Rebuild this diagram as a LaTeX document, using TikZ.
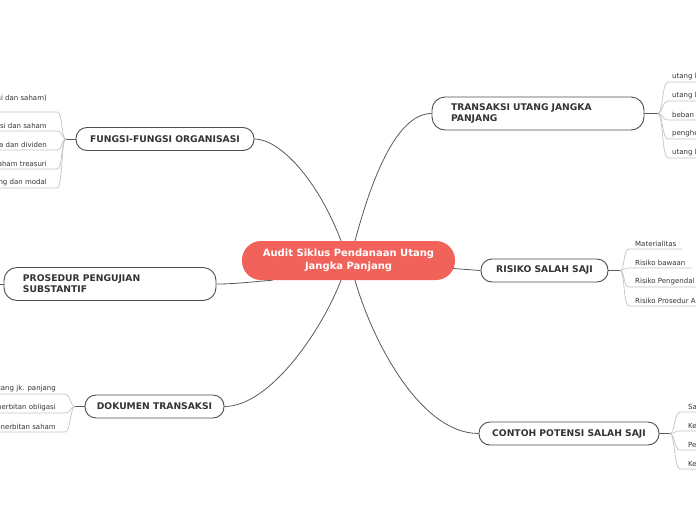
\documentclass[tikz,border=0pt]{standalone}
\usepackage{fontspec}
\setmainfont{DejaVu Sans}
\usepackage{tikz}
\definecolor{rootred}{RGB}{241, 99, 90}
\definecolor{branchgray}{RGB}{77, 77, 77}
\definecolor{linkgray}{RGB}{90, 90, 90}
\definecolor{leafgray}{RGB}{195, 195, 195}
\definecolor{textgray}{RGB}{51, 51, 51}

\begin{document}
\begin{tikzpicture}[
    x=1pt, y=-1pt,
    root/.style={rectangle, rounded corners=19pt, fill=rootred, text=white, minimum width=213pt, minimum height=39pt, align=center, font=\fontsize{10}{12.5}\selectfont\bfseries},
    branch/.style={rectangle, rounded corners=11pt, draw=branchgray, fill=white, line width=0.9pt, minimum height=23pt, text=textgray, font=\fontsize{9.2}{11}\selectfont\bfseries},
    widebranch/.style={branch, rounded corners=13pt, minimum height=33pt, text width=174pt, inner xsep=19pt, align=left},
    leafr/.style={anchor=south west, inner xsep=#1, inner ysep=2pt, text=textgray, font=\fontsize{7}{8}\selectfont},
    leafl/.style={anchor=south east, inner xsep=#1, inner ysep=2pt, text=textgray, font=\fontsize{7}{8}\selectfont},
    link/.style={draw=linkgray, line width=0.8pt},
    leafline/.style={draw=leafgray, line width=0.7pt}
]
\useasboundingbox (0,0) rectangle (696,520);

% Root (centre)
\node[root] (root) at (348.5,260.5) {Audit Siklus Pendanaan Utang\\Jangka Panjang};

% Branches
\node[branch, minimum width=178pt] (fu) at (165,139) {FUNGSI-FUNGSI ORGANISASI};
\node[widebranch] (tr) at (538,113.5) {TRANSAKSI UTANG JANGKA\\PANJANG};
\node[widebranch] (pr) at (110,284) {PROSEDUR PENGUJIAN\\SUBSTANTIF};
\node[branch, minimum width=127pt] (rs) at (544.5,270.5) {RISIKO SALAH SAJI};
\node[branch, minimum width=139pt] (dk) at (154.5,406.5) {DOKUMEN TRANSAKSI};
\node[branch, minimum width=180pt] (ct) at (569,433.5) {CONTOH POTENSI SALAH SAJI};

% Root to branches
\draw[link] ([xshift=-7.5pt]root.north) .. controls (318,180) and (280,139) .. (fu.east);
\draw[link] ([xshift=6.5pt]root.north) .. controls (370,185) and (395,113.5) .. (tr.west);
\draw[link] ([xshift=-76pt]root.south) .. controls (250,282) and (235,284) .. (pr.east);
\draw[link] ([xshift=-2pt, yshift=-8pt]root.east) -- (rs.west);
\draw[link] ([xshift=-7.5pt]root.south) .. controls (322,330) and (270,406.5) .. (dk.west -| dk.east);
\draw[link] ([xshift=6.5pt]root.south) .. controls (372,340) and (420,433.5) .. (ct.west);

% Hubs
\coordinate (fu-h) at (66,139);
\coordinate (tr-h) at (658,113.5);
\coordinate (pr-h) at (-8,284);
\coordinate (rs-h) at (620,270.5);
\coordinate (dk-h) at (75,406.5);
\coordinate (ct-h) at (670,433.5);
\draw[link] (fu.west) -- (fu-h);
\draw[link] (tr.east) -- (tr-h);
\draw[link] (pr.west) -- (pr-h);
\draw[link] (rs.east) -- (rs-h);
\draw[link] (dk.west) -- (dk-h);
\draw[link] (ct.east) -- (ct-h);

% Leaves: fungsi-fungsi organisasi (left)
\node[leafl=10pt, text depth=9pt] (fu1) at (57,112) {si dan saham)};
\node[leafl=10pt] (fu2) at (57,131) {si dan saham};
\node[leafl=10pt] (fu3) at (57,150) {a dan dividen};
\node[leafl=10pt] (fu4) at (57,169) {aham treasuri};
\node[leafl=10pt] (fu5) at (57,188) {ng dan modal};
\draw[leafline] (fu-h) .. controls +(-5,0) and +(6,0) .. (fu1.south east) -- (fu1.south west);
\draw[leafline] (fu-h) .. controls +(-5,0) and +(6,0) .. (fu2.south east) -- (fu2.south west);
\draw[leafline] (fu-h) .. controls +(-5,0) and +(6,0) .. (fu3.south east) -- (fu3.south west);
\draw[leafline] (fu-h) .. controls +(-5,0) and +(6,0) .. (fu4.south east) -- (fu4.south west);
\draw[leafline] (fu-h) .. controls +(-5,0) and +(6,0) .. (fu5.south east) -- (fu5.south west);

% Leaves: transaksi utang jangka panjang (right)
\node[leafr=4pt] (tr1) at (668,82) {utang l};
\node[leafr=4pt] (tr2) at (668,101) {utang l};
\node[leafr=4pt] (tr3) at (668,120) {beban};
\node[leafr=4pt] (tr4) at (668,139) {penghe};
\node[leafr=4pt] (tr5) at (668,158) {utang l};
\draw[leafline] (tr-h) .. controls +(5,0) and +(-6,0) .. (tr1.south west) -- (tr1.south east);
\draw[leafline] (tr-h) .. controls +(5,0) and +(-6,0) .. (tr2.south west) -- (tr2.south east);
\draw[leafline] (tr-h) .. controls +(5,0) and +(-6,0) .. (tr3.south west) -- (tr3.south east);
\draw[leafline] (tr-h) .. controls +(5,0) and +(-6,0) .. (tr4.south west) -- (tr4.south east);
\draw[leafline] (tr-h) .. controls +(5,0) and +(-6,0) .. (tr5.south west) -- (tr5.south east);

% Leaves: risiko salah saji (right)
\node[leafr=6pt] (rs1) at (629,249) {Materialitas};
\node[leafr=6pt] (rs2) at (629,268) {Risiko bawaan};
\node[leafr=6pt] (rs3) at (629,287) {Risiko Pengendal};
\node[leafr=6pt] (rs4) at (629,306) {Risiko Prosedur A};
\draw[leafline] (rs-h) .. controls +(5,0) and +(-6,0) .. (rs1.south west) -- (rs1.south east);
\draw[leafline] (rs-h) .. controls +(5,0) and +(-6,0) .. (rs2.south west) -- (rs2.south east);
\draw[leafline] (rs-h) .. controls +(5,0) and +(-6,0) .. (rs3.south west) -- (rs3.south east);
\draw[leafline] (rs-h) .. controls +(5,0) and +(-6,0) .. (rs4.south west) -- (rs4.south east);

% Leaves: dokumen transaksi (left)
\node[leafl=9pt] (dk1) at (65,394) {tang jk. panjang};
\node[leafl=9pt] (dk2) at (65,413) {nerbitan obligasi};
\node[leafl=9pt] (dk3) at (65,432) {enerbitan saham};
\draw[leafline] (dk-h) .. controls +(-5,0) and +(6,0) .. (dk1.south east) -- (dk1.south west);
\draw[leafline] (dk-h) .. controls +(-5,0) and +(6,0) .. (dk2.south east) -- (dk2.south west);
\draw[leafline] (dk-h) .. controls +(-5,0) and +(6,0) .. (dk3.south east) -- (dk3.south west);

% Leaves: contoh potensi salah saji (right)
\node[leafr=8pt] (ct1) at (680,412) {Sa};
\node[leafr=8pt] (ct2) at (680,431) {Ke};
\node[leafr=8pt] (ct3) at (680,450) {Pe};
\node[leafr=8pt] (ct4) at (680,469) {Ke};
\draw[leafline] (ct-h) .. controls +(5,0) and +(-6,0) .. (ct1.south west) -- (ct1.south east);
\draw[leafline] (ct-h) .. controls +(5,0) and +(-6,0) .. (ct2.south west) -- (ct2.south east);
\draw[leafline] (ct-h) .. controls +(5,0) and +(-6,0) .. (ct3.south west) -- (ct3.south east);
\draw[leafline] (ct-h) .. controls +(5,0) and +(-6,0) .. (ct4.south west) -- (ct4.south east);

\end{tikzpicture}
\end{document}
